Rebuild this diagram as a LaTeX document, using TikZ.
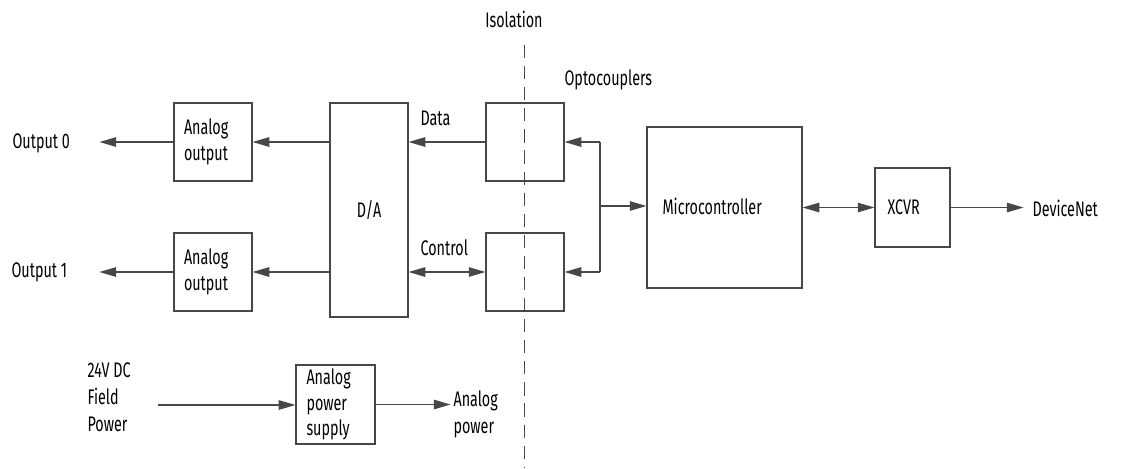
\documentclass[tikz,border=0pt]{standalone}
\usepackage{fontspec}
\setmainfont[FakeStretch=0.68]{Fira Sans}
\usepackage{tikz}
\usetikzlibrary{arrows.meta, positioning}

\begin{document}
\begin{tikzpicture}[
    x=0.02cm, y=-0.02cm,
    >={Triangle[length=9.5pt, width=5.4pt]},
    line width=0.65pt, draw=black!72,
    block/.style={rectangle, draw=black!72, line width=0.65pt, minimum width=1.56cm, minimum height=1.56cm, inner sep=0.2cm, text width=1.16cm, align=left, font=\fontsize{12}{14.5}\selectfont},
    label/.style={font=\fontsize{12}{14.5}\selectfont, align=left, inner sep=0pt},
    link/.style={->, draw=black!72, line width=0.65pt},
    duplex/.style={<->, draw=black!72, line width=0.65pt}
]
\useasboundingbox (0,0) rectangle (1126,468);

% D/A side
\node[block] (outA) at (213,142) {Analog\\output};
\node[block] (outB) at (213,272) {Analog\\output};
\node[block, minimum height=4.28cm, align=center] (dac) at (369,210) {D/A};
\node[label, anchor=west] (out0) at (12,143) {Output 0};
\node[label, anchor=west] (out1) at (11,272) {Output 1};

% optocouplers across the isolation barrier
\node[block] (optoA) at (525,142) {};
\node[block] (optoB) at (525,272) {};
\node[label] (iso) at (514,19) {Isolation};
\node[label, anchor=west] (optoLbl) at (564,80) {Optocouplers};
\node[label, anchor=west] (dataLbl) at (420,118) {Data};
\node[label, anchor=west] (ctrlLbl) at (420,248) {Control};
\coordinate (isoTop) at (524,45);
\coordinate (isoBot) at (524,468);
\draw[line width=0.45pt, dash pattern=on 7.5pt off 4.5pt] (isoTop) -- (isoBot);

% controller side
\node[block, minimum width=3.1cm, minimum height=3.22cm] (mcu) at (724.5,207.5) {};
\node[label, anchor=west] (mcuLbl) at (662,206) {Microcontroller};
\node[block, minimum width=1.5cm, minimum height=1.58cm, inner sep=0.25cm, text width=1cm] (xcvr) at (912.5,207.5) {XCVR};
\node[label, anchor=west] (dnet) at (1032,208) {DeviceNet};
\coordinate (bus) at (600,206);

% field power
\node[block, minimum width=1.58cm, minimum height=1.58cm, inner ysep=1pt] (psu) at (335.5,404.5) {Analog\\power\\supply};
\node[label, anchor=west] (field) at (87,397) {24V DC\\[1pt]Field\\[1pt]Power};
\node[label, anchor=west] (apwr) at (453,414) {Analog\\[1pt]power};
\coordinate (fieldIn) at (158,405);

% connectors
\draw[link] (dac.west |- outA.east) -- (outA.east);
\draw[link] (dac.west |- outB.east) -- (outB.east);
\draw[link] (outA.west) -- ++(-74,0);
\draw[link] (outB.west) -- ++(-74,0);
\draw[link] (optoA.west) -- (dac.east |- optoA.west);
\draw[duplex] (dac.east |- optoB.west) -- (optoB.west);
\draw[link] (bus |- optoA.east) -- (optoA.east);
\draw[link] (bus |- optoB.east) -- (optoB.east);
\draw (bus |- optoA.east) -- (bus |- optoB.east);
\draw[link] (bus) -- (mcu.west |- bus);
\draw[duplex] (mcu.east |- xcvr.west) -- (xcvr.west);
\draw[link] (xcvr.east) -- ++(73,0);
\draw[link] (fieldIn) -- (psu.west |- fieldIn);
\draw[link] (psu.east) -- ++(75,0);
\end{tikzpicture}
\end{document}
